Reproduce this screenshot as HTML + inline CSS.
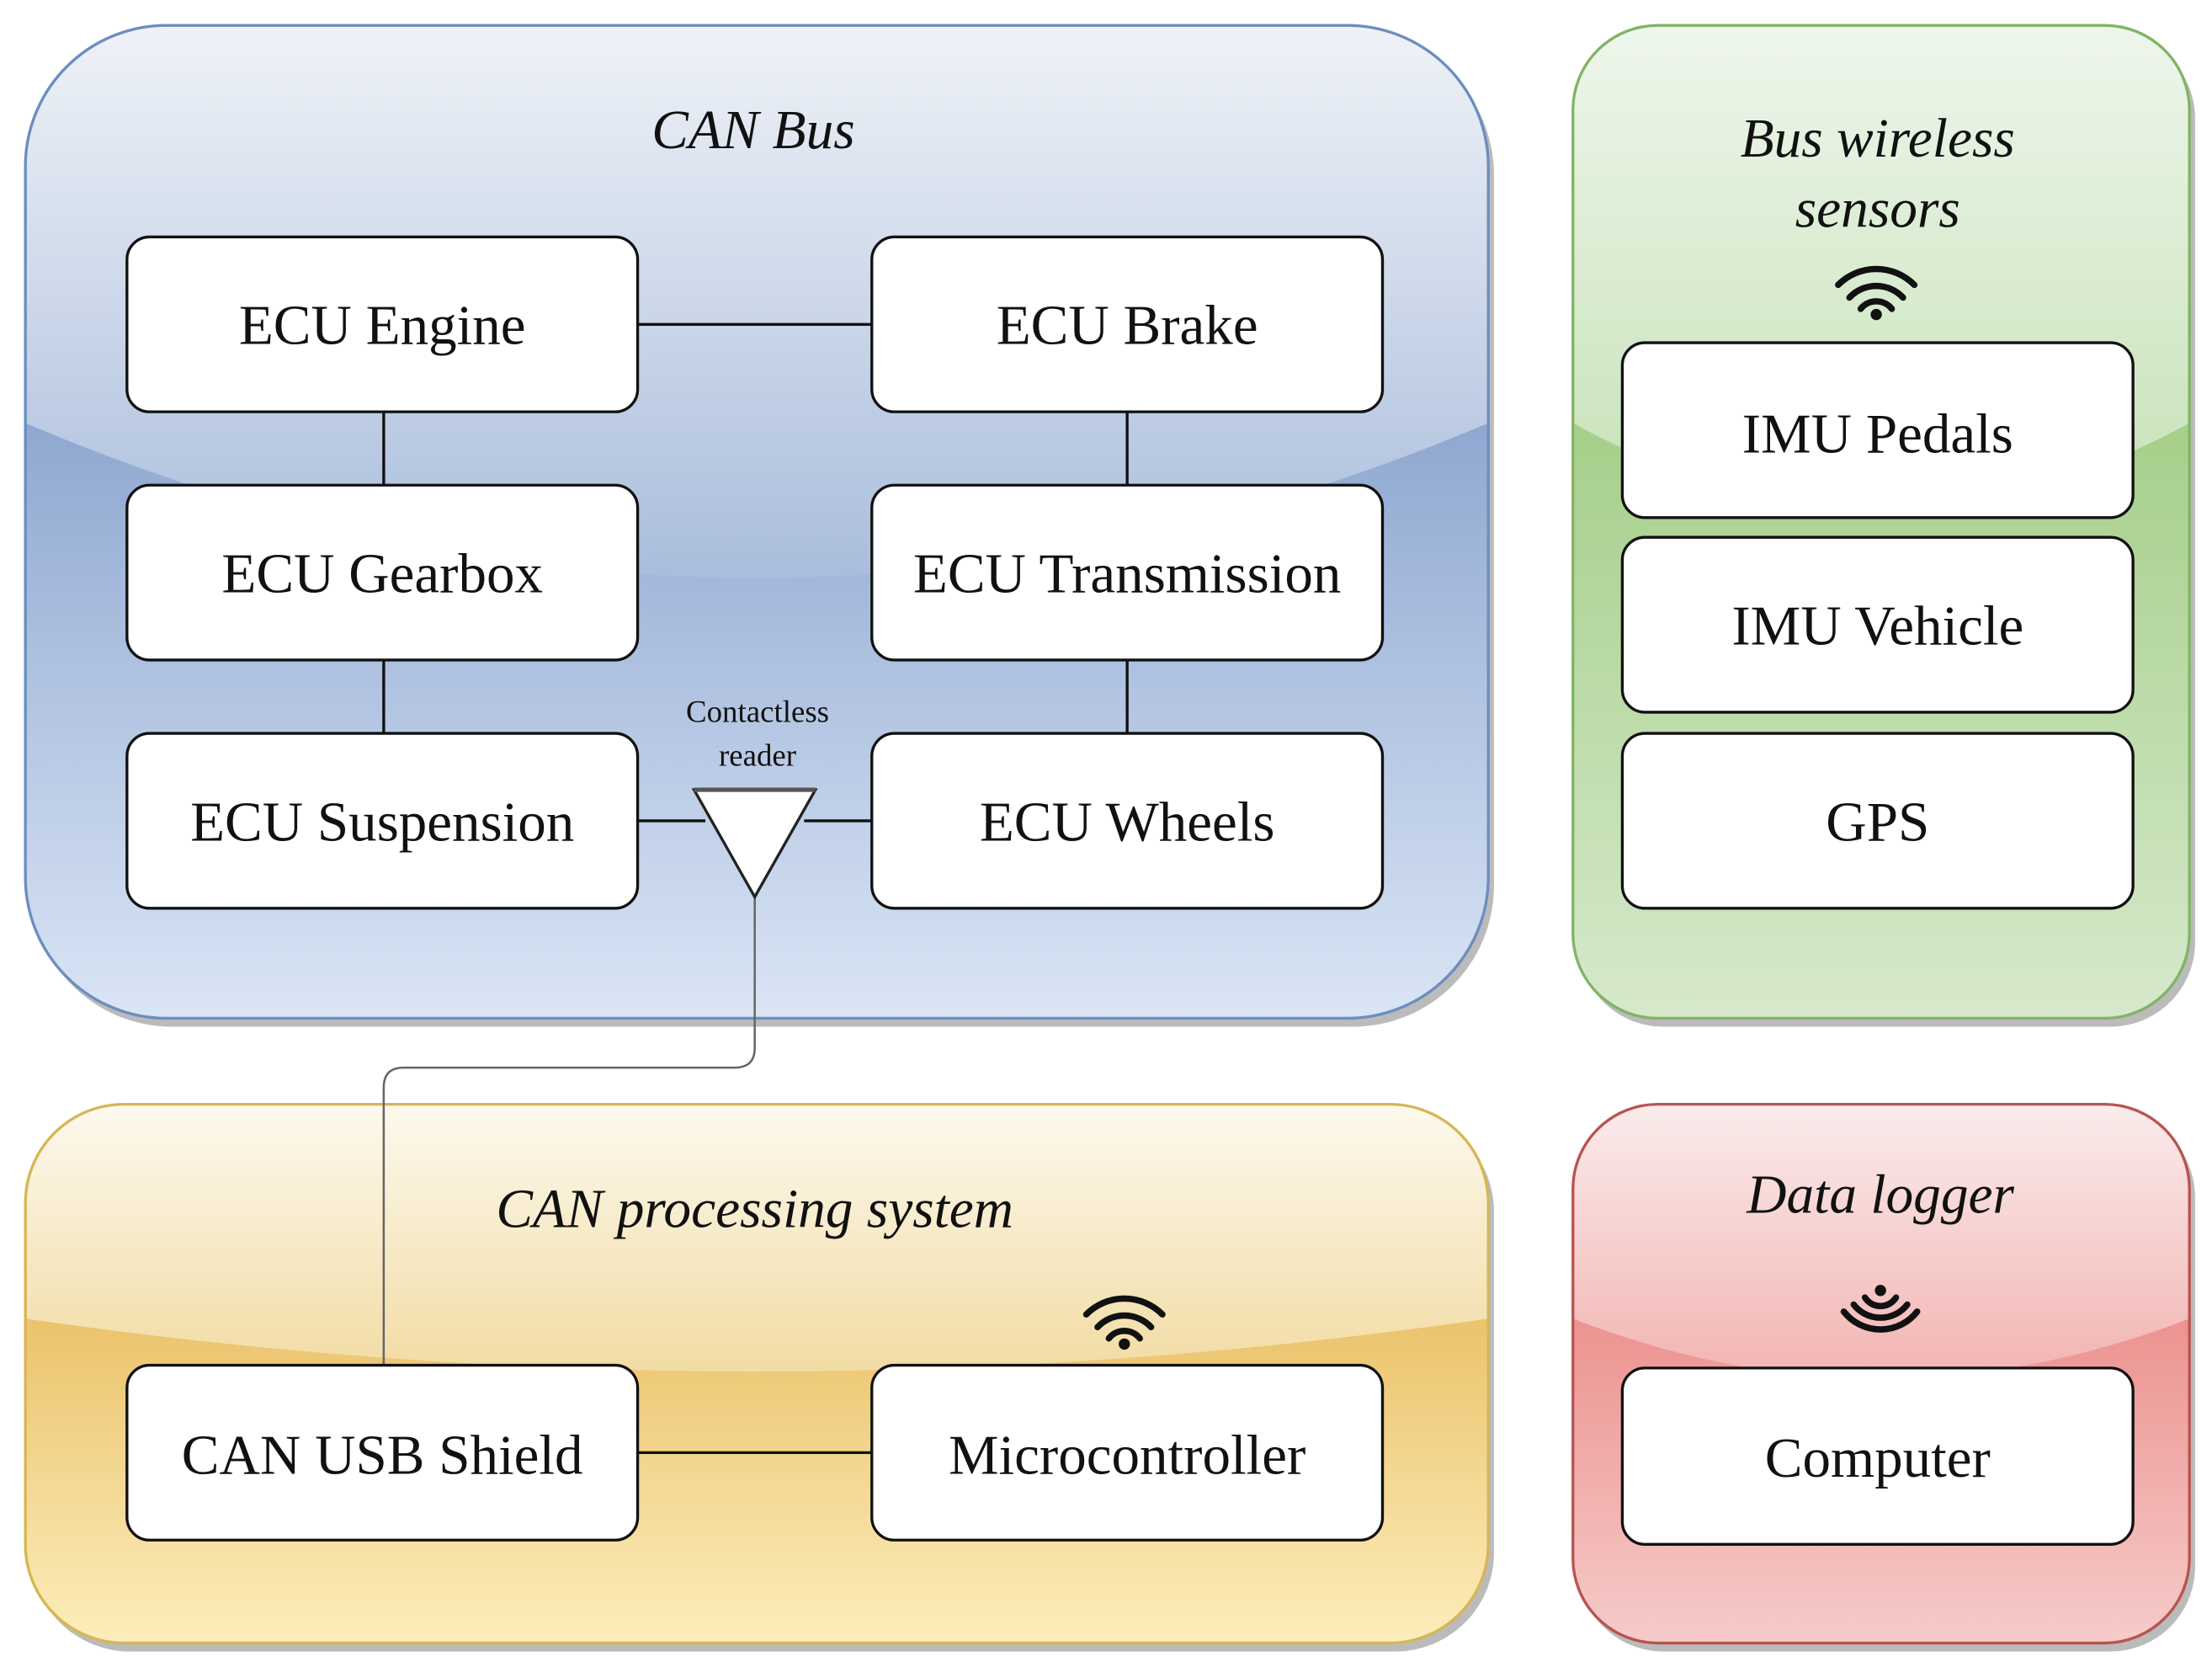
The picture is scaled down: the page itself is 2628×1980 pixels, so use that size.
<!DOCTYPE html>
<html><head><meta charset="utf-8"><style>
html,body{margin:0;padding:0;background:#fff;}
svg{display:block;}
text{font-family:"Liberation Serif",serif;fill:#111;}
</style></head><body>
<svg width="2628" height="1980" viewBox="0 0 1568 1182" preserveAspectRatio="none" xmlns="http://www.w3.org/2000/svg">
<defs>
<linearGradient id="bT" x1="0" y1="0" x2="0" y2="1"><stop offset="0" stop-color="#eff2f7"/><stop offset="1" stop-color="#a9bddc"/></linearGradient>
<linearGradient id="bB" x1="0" y1="0" x2="0" y2="1"><stop offset="0" stop-color="#8fa8d1"/><stop offset="1" stop-color="#dae5f5"/></linearGradient>
<linearGradient id="gT" x1="0" y1="0" x2="0" y2="1"><stop offset="0" stop-color="#eef6eb"/><stop offset="1" stop-color="#c6e2b8"/></linearGradient>
<linearGradient id="gB" x1="0" y1="0" x2="0" y2="1"><stop offset="0" stop-color="#a6cf8a"/><stop offset="1" stop-color="#d6e9cc"/></linearGradient>
<linearGradient id="yT" x1="0" y1="0" x2="0" y2="1"><stop offset="0" stop-color="#fdf9ee"/><stop offset="1" stop-color="#f2dca4"/></linearGradient>
<linearGradient id="yB" x1="0" y1="0" x2="0" y2="1"><stop offset="0" stop-color="#ebc36c"/><stop offset="1" stop-color="#fcedbb"/></linearGradient>
<linearGradient id="rT" x1="0" y1="0" x2="0" y2="1"><stop offset="0" stop-color="#faecec"/><stop offset="1" stop-color="#f2b4b1"/></linearGradient>
<linearGradient id="rB" x1="0" y1="0" x2="0" y2="1"><stop offset="0" stop-color="#ec9390"/><stop offset="1" stop-color="#f6cbc9"/></linearGradient>
<clipPath id="c1"><rect x="18" y="18" width="1037" height="704" rx="100"/></clipPath>
<clipPath id="c2"><rect x="1115" y="18" width="437" height="704" rx="60"/></clipPath>
<clipPath id="c3"><rect x="18" y="783" width="1037" height="382" rx="70"/></clipPath>
<clipPath id="c4"><rect x="1115" y="783" width="437" height="382" rx="60"/></clipPath>
</defs>
<!-- shadows -->
<rect x="22" y="24" width="1037" height="704" rx="100" fill="#bbb"/>
<rect x="1119" y="24" width="437" height="704" rx="60" fill="#bbb"/>
<rect x="22" y="789" width="1037" height="382" rx="70" fill="#bbb"/>
<rect x="1119" y="789" width="437" height="382" rx="60" fill="#bbb"/>
<!-- CAN Bus -->
<g clip-path="url(#c1)">
<rect x="18" y="18" width="1037" height="704" fill="url(#bB)" y2="0"/>
<rect x="18" y="300" width="1037" height="422" fill="url(#bB)"/>
<path d="M18,18 H1055 V300 Q536,520 18,300 Z" fill="url(#bT)"/>
</g>
<rect x="18" y="18" width="1037" height="704" rx="100" fill="none" stroke="#6c8ebf" stroke-width="2"/>
<!-- Green -->
<g clip-path="url(#c2)">
<rect x="1115" y="300" width="437" height="422" fill="url(#gB)"/>
<path d="M1115,18 H1552 V300 Q1333,420 1115,300 Z" fill="url(#gT)"/>
</g>
<rect x="1115" y="18" width="437" height="704" rx="60" fill="none" stroke="#82b366" stroke-width="2"/>
<!-- Yellow -->
<g clip-path="url(#c3)">
<rect x="18" y="935" width="1037" height="230" fill="url(#yB)"/>
<path d="M18,783 H1055 V935 Q536,1010 18,935 Z" fill="url(#yT)"/>
</g>
<rect x="18" y="783" width="1037" height="382" rx="70" fill="none" stroke="#d6b656" stroke-width="2"/>
<!-- Red -->
<g clip-path="url(#c4)">
<rect x="1115" y="935" width="437" height="230" fill="url(#rB)"/>
<path d="M1115,783 H1552 V935 Q1333,1020 1115,935 Z" fill="url(#rT)"/>
</g>
<rect x="1115" y="783" width="437" height="382" rx="60" fill="none" stroke="#b85450" stroke-width="2"/>

<!-- connectors -->
<g stroke="#111" stroke-width="2" fill="none">
<line x1="452" y1="230" x2="618" y2="230"/>
<line x1="272" y1="292" x2="272" y2="344"/>
<line x1="272" y1="468" x2="272" y2="520"/>
<line x1="799" y1="292" x2="799" y2="344"/>
<line x1="799" y1="468" x2="799" y2="520"/>
<line x1="452" y1="582" x2="500" y2="582"/>
<line x1="570" y1="582" x2="618" y2="582"/>
<line x1="452" y1="1030" x2="618" y2="1030"/>
</g>
<path d="M535,636 V743 Q535,757 521,757 H286 Q272,757 272,771 V968" stroke="#666" stroke-width="1.5" fill="none"/>
<polygon points="492,560 578,560 535,636" fill="#fff" stroke="#222" stroke-width="2"/>
<line x1="492" y1="560" x2="578" y2="560" stroke="#555" stroke-width="3"/>
<text x="537" y="512" font-size="22" text-anchor="middle" fill="#333">Contactless</text>
<text x="537" y="543" font-size="22" text-anchor="middle" fill="#333">reader</text>

<!-- boxes -->
<g fill="#fff" stroke="#111" stroke-width="2">
<rect x="90" y="168" width="362" height="124" rx="16"/>
<rect x="618" y="168" width="362" height="124" rx="16"/>
<rect x="90" y="344" width="362" height="124" rx="16"/>
<rect x="618" y="344" width="362" height="124" rx="16"/>
<rect x="90" y="520" width="362" height="124" rx="16"/>
<rect x="618" y="520" width="362" height="124" rx="16"/>
<rect x="1150" y="243" width="362" height="124" rx="16"/>
<rect x="1150" y="381" width="362" height="124" rx="16"/>
<rect x="1150" y="520" width="362" height="124" rx="16"/>
<rect x="90" y="968" width="362" height="124" rx="16"/>
<rect x="618" y="968" width="362" height="124" rx="16"/>
<rect x="1150" y="970" width="362" height="125" rx="16"/>
</g>
<g font-size="40" text-anchor="middle">
<text x="271" y="244">ECU Engine</text>
<text x="799" y="244">ECU Brake</text>
<text x="271" y="420">ECU Gearbox</text>
<text x="799" y="420">ECU Transmission</text>
<text x="271" y="596">ECU Suspension</text>
<text x="799" y="596">ECU Wheels</text>
<text x="1331" y="321">IMU Pedals</text>
<text x="1331" y="457">IMU Vehicle</text>
<text x="1331" y="596">GPS</text>
<text x="271" y="1045">CAN USB Shield</text>
<text x="799" y="1045">Microcontroller</text>
<text x="1331" y="1047">Computer</text>
</g>
<g font-size="39" font-style="italic" text-anchor="middle">
<text x="534" y="105">CAN Bus</text>
<text x="1331" y="111">Bus wireless</text>
<text x="1331" y="161">sensors</text>
<text x="535" y="870">CAN processing system</text>
<text x="1333" y="860">Data logger</text>
</g>

<!-- wifi icons -->
<g stroke="#111" stroke-width="4.5" fill="none" stroke-linecap="round">
<path d="M1303,202 A38,38 0 0 1 1357,202"/>
<path d="M1311,211 A26,26 0 0 1 1349,211"/>
<path d="M1319,219 A14,14 0 0 1 1341,219"/>
<path d="M770,932 A38,38 0 0 1 824,932"/>
<path d="M778,941 A26,26 0 0 1 816,941"/>
<path d="M786,949 A14,14 0 0 1 808,949"/>
<path d="M1307,930 A33,33 0 0 0 1359,930"/>
<path d="M1314,925 A24,24 0 0 0 1352,925"/>
<path d="M1322,920 A13,13 0 0 0 1344,920"/>
</g>
<circle cx="1330" cy="223" r="4" fill="#111"/>
<circle cx="797" cy="953" r="4" fill="#111"/>
<circle cx="1333" cy="915" r="4" fill="#111"/>
</svg>
</body></html>
